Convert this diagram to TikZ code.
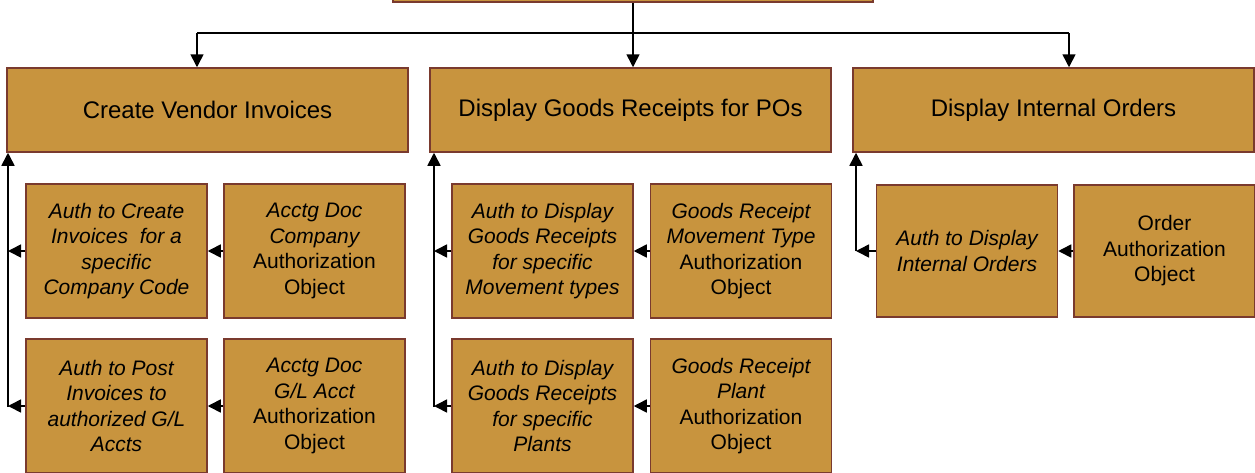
\documentclass[tikz,border=0pt]{standalone}
\usepackage{fontspec}
\setmainfont{Liberation Sans}
\usetikzlibrary{arrows.meta}

\definecolor{boxfill}{RGB}{200,148,62}
\definecolor{boxedge}{RGB}{122,58,46}

\tikzset{
  topbox/.style={draw=boxedge, fill=boxfill, line width=1.5pt,
    minimum width=401pt, minimum height=84pt, inner sep=0pt,
    font=\fontsize{24}{28}\selectfont},
  authbox/.style={draw=boxedge, fill=boxfill, line width=1.5pt,
    minimum width=181pt, minimum height=134pt, inner sep=0pt,
    align=center, font=\fontsize{21}{25.5}\selectfont},
  conn/.style={line width=1.6pt},
  arr/.style={conn, -{Triangle[length=13pt,width=13pt]}}
}

\begin{document}
\begin{tikzpicture}[x=1pt,y=-1pt]
        \useasboundingbox (0,0) rectangle (1255,472);
        \clip (0,0) rectangle (1255,472);

        % root box, cut off at the top
        \node[topbox, minimum width=480pt] (root) at (633,-40) {};

        % transactions
        \node[topbox] (vendor) at (207.5,110) {Create Vendor Invoices};
        \node[topbox] (goods) at (630.5,110) {Display Goods Receipts for POs};
        \node[topbox] (orders) at (1053.5,110) {Display Internal Orders};

        % root to transactions
        \coordinate (busL) at (197,33);
        \coordinate (busR) at (1069,33);
        \draw[conn] (busL) -- (busR);
        \draw[arr] (root.south) -- (root.south |- goods.north);
        \draw[arr] (busL) -- (busL |- vendor.north);
        \draw[arr] (busR) -- (busR |- orders.north);

        % vendor invoices
        \node[authbox] (compAuth) at (116.5,251) {\itshape Auth to Create\\\itshape Invoices\ \ for a\\\itshape specific\\\itshape Company Code};
        \node[authbox] (compObj) at (314.5,251) {\itshape Acctg Doc\\\itshape Company\\Authorization\\Object};
        \node[authbox] (glAuth) at (116.5,406) {\itshape Auth to Post\\\itshape Invoices to\\\itshape authorized G/L\\\itshape Accts};
        \node[authbox] (glObj) at (314.5,406) {\itshape Acctg Doc\\\itshape G/L Acct\\Authorization\\Object};

        \coordinate (spineL) at (8,407);
        \draw[arr] (spineL) -- (spineL |- vendor.south);
        \draw[arr] (compAuth.west) -- (compAuth.west -| spineL);
        \draw[arr] (glAuth.west) -- (glAuth.west -| spineL);
        \draw[arr] (compObj.west) -- (compAuth.east);
        \draw[arr] (glObj.west) -- (glAuth.east);

        % goods receipts
        \node[authbox] (mvtAuth) at (542.5,251) {\itshape Auth to Display\\\itshape Goods Receipts\\\itshape for specific\\\itshape Movement types};
        \node[authbox] (mvtObj) at (741,251) {\itshape Goods Receipt\\\itshape Movement Type\\Authorization\\Object};
        \node[authbox] (plantAuth) at (542.5,406) {\itshape Auth to Display\\\itshape Goods Receipts\\\itshape for specific\\\itshape Plants};
        \node[authbox] (plantObj) at (741,406) {\itshape Goods Receipt\\\itshape Plant\\Authorization\\Object};

        \coordinate (spineM) at (434,407);
        \draw[arr] (spineM) -- (spineM |- goods.south);
        \draw[arr] (mvtAuth.west) -- (mvtAuth.west -| spineM);
        \draw[arr] (plantAuth.west) -- (plantAuth.west -| spineM);
        \draw[arr] (mvtObj.west) -- (mvtAuth.east);
        \draw[arr] (plantObj.west) -- (plantAuth.east);

        % internal orders
        \node[authbox, minimum height=132pt] (ordAuth) at (967,251) {\itshape Auth to Display\\\itshape Internal Orders};
        \node[authbox, minimum height=132pt] (ordObj) at (1164.5,251) {Order\\Authorization\\Object};

        \coordinate (spineR) at (856,251);
        \draw[arr] (spineR) -- (spineR |- orders.south);
        \draw[arr] (ordAuth.west) -- (ordAuth.west -| spineR);
        \draw[arr] (ordObj.west) -- (ordAuth.east);
    \end{tikzpicture}
\end{document}
